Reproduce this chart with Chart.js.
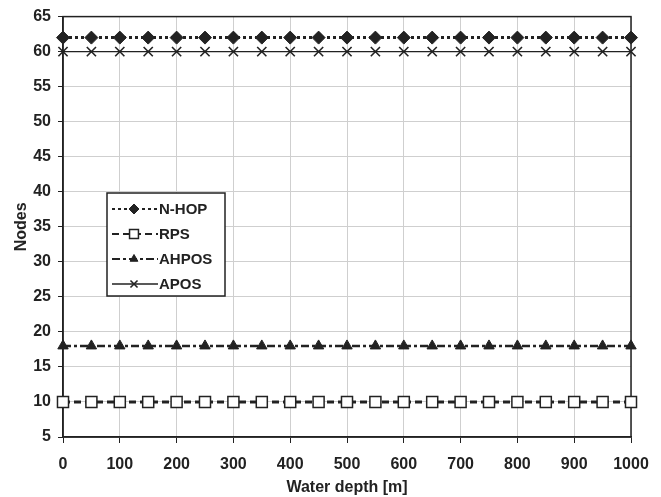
<!DOCTYPE html>
<html>
<head>
<meta charset="utf-8">
<script src="https://cdn.jsdelivr.net/npm/chart.js@4"></script>
<style>
  body { margin: 0; background: #fff; }
  #wrap { width: 661px; height: 497px; }
</style>
</head>
<body>
<div id="wrap"><canvas id="chart" width="661" height="497"></canvas></div>
<script>
const depths = [0, 50, 100, 150, 200, 250, 300, 350, 400, 450, 500, 550, 600, 650, 700, 750, 800, 850, 900, 950, 1000];
const nhop  = [62, 62, 62, 62, 62, 62, 62, 62, 62, 62, 62, 62, 62, 62, 62, 62, 62, 62, 62, 62, 62];
const rps   = [10, 10, 10, 10, 10, 10, 10, 10, 10, 10, 10, 10, 10, 10, 10, 10, 10, 10, 10, 10, 10];
const ahpos = [18, 18, 18, 18, 18, 18, 18, 18, 18, 18, 18, 18, 18, 18, 18, 18, 18, 18, 18, 18, 18];
const apos  = [60, 60, 60, 60, 60, 60, 60, 60, 60, 60, 60, 60, 60, 60, 60, 60, 60, 60, 60, 60, 60];
const seriesNames = ['N-HOP', 'RPS', 'AHPOS', 'APOS'];

const FONT = '"Liberation Sans", Arial, sans-serif';
const ink = '#222';

const pts = arr => arr.map((v, i) => ({ x: depths[i], y: v }));

const styles = [
  { dash: [3, 3], width: 3, point: 'rectRot', radius: 6.5, fill: ink, pw: 1 },
  { dash: [7, 4], width: 3, point: 'rect', radius: 7.8, fill: '#fff', pw: 1.5 },
  { dash: [8, 3, 3, 3], width: 2.5, point: 'triangle', radius: 6, fill: ink, pw: 1 },
  { dash: [], width: 1.3, point: 'crossRot', radius: 6.5, fill: ink, pw: 1.6 }
];

const datasets = [nhop, rps, ahpos, apos].map((arr, i) => ({
  label: seriesNames[i],
  data: pts(arr),
  borderColor: ink,
  borderWidth: styles[i].width,
  borderDash: styles[i].dash,
  pointStyle: styles[i].point,
  pointRadius: styles[i].radius,
  pointBackgroundColor: styles[i].fill,
  pointBorderColor: ink,
  pointBorderWidth: styles[i].pw,
  clip: false,
  tension: 0
}));

// frame on top/right plus the boxed legend inside the plot
const framePlugin = {
  id: 'frame',
  beforeDatasetsDraw(chart) {
    const { ctx, chartArea: a } = chart;
    ctx.save();
    ctx.strokeStyle = ink;
    ctx.lineWidth = 1.5;
    ctx.strokeRect(a.left, a.top, a.right - a.left, a.bottom - a.top);
    ctx.restore();
  },
  afterDraw(chart) {
    const { ctx } = chart;
    ctx.save();
    const lx = 107, ly = 193, lw = 118, lh = 103;
    ctx.fillStyle = '#fff';
    ctx.fillRect(lx, ly, lw, lh);
    ctx.strokeStyle = ink;
    ctx.lineWidth = 1.5;
    ctx.strokeRect(lx, ly, lw, lh);
    ctx.font = 'bold 15px ' + FONT;
    ctx.textBaseline = 'middle';
    seriesNames.forEach((name, i) => {
      const y = ly + 16 + i * 25;
      const s = styles[i];
      ctx.strokeStyle = ink;
      ctx.lineWidth = Math.min(s.width, 2);
      ctx.setLineDash(s.dash);
      ctx.beginPath();
      ctx.moveTo(lx + 5, y);
      ctx.lineTo(lx + 51, y);
      ctx.stroke();
      ctx.setLineDash([]);
      ctx.fillStyle = s.fill;
      ctx.lineWidth = s.pw;
      Chart.helpers.drawPoint(ctx, { pointStyle: s.point, radius: s.radius - 1.5, borderWidth: s.pw }, lx + 27, y);
      ctx.fillStyle = ink;
      ctx.fillText(name, lx + 52, y + 1);
    });
    ctx.restore();
  }
};

new Chart(document.getElementById('chart'), {
  type: 'line',
  data: { datasets },
  options: {
    responsive: false,
    animation: false,
    layout: { padding: { top: 14, right: 30, left: 11.5, bottom: 0 } },
    plugins: { legend: { display: false }, tooltip: { enabled: false } },
    scales: {
      x: {
        type: 'linear',
        min: 0, max: 1000,
        afterFit: s => { s.height = 60; },
        ticks: { stepSize: 100, color: ink, font: { family: FONT, size: 16, weight: 'bold' }, padding: 12,
                 callback: v => String(v) },
        grid: { color: '#cfcfcf', lineWidth: 1, tickColor: ink, tickLength: 6 },
        border: { color: ink, width: 1.5 },
        title: { display: true, text: 'Water depth [m]', color: ink, padding: { top: 0, bottom: 0 },
                 font: { family: FONT, size: 16, weight: 'bold' } }
      },
      y: {
        min: 5, max: 65,
        afterFit: s => { s.width = 51.5; },
        ticks: { stepSize: 5, color: ink, font: { family: FONT, size: 16, weight: 'bold' }, padding: 7 },
        grid: { color: '#cfcfcf', lineWidth: 1, tickColor: ink, tickLength: 5 },
        border: { color: ink, width: 1.5 },
        title: { display: true, text: 'Nodes', color: ink, padding: { top: 0, bottom: 0 },
                 font: { family: FONT, size: 16, weight: 'bold' } }
      }
    }
  },
  plugins: [framePlugin]
});
</script>
</body>
</html>
